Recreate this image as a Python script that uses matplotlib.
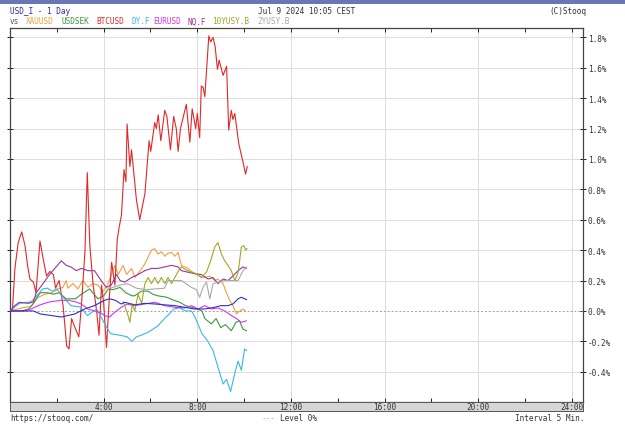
import matplotlib
matplotlib.use("Agg")
import matplotlib.pyplot as plt
from matplotlib.patches import Rectangle

# ---------------- data (hours since 0:00, % change) ----------------
usdi_h = [0, 0.5, 1.0, 1.3, 1.76, 2.19, 2.47, 2.76, 3.19, 3.6, 4.04, 4.25, 4.5, 4.75, 4.9, 5.33, 5.76,
          6.18, 6.61, 7.04, 7.46, 7.89, 8.32, 8.74, 9.0, 9.31, 9.52, 9.74, 9.88, 10.02, 10.1]
usdi_v = [0, 0.0, 0.0, -0.02, -0.03, -0.04, -0.03, -0.02, 0.013, 0.035, 0.07, 0.08, 0.07, 0.046, 0.057,
          0.04, 0.05, 0.046, 0.04, 0.035, 0.024, 0.013, 0.013, 0.024, 0.035, 0.035, 0.046, 0.08, 0.09,
          0.08, 0.075]

xau_h = [0, 0.5, 0.9, 1.2, 1.5, 1.8, 2.05, 2.26, 2.4, 2.47, 2.69, 2.9, 3.11, 3.33, 3.54, 3.75, 3.97,
         4.1, 4.26, 4.48, 4.62, 4.83, 4.98, 5.19, 5.33, 5.54, 5.76, 6.04, 6.18, 6.32, 6.47, 6.61, 6.74,
         6.9, 7.04, 7.18, 7.32, 7.46, 7.6, 7.75, 7.96, 8.1, 8.32, 8.53, 8.74, 8.88, 9.1, 9.24, 9.38,
         9.52, 9.67, 9.81, 9.95, 10.05]
xau_v = [0, 0.02, 0.03, 0.09, 0.11, 0.12, 0.145, 0.155, 0.2, 0.15, 0.18, 0.145, 0.2, 0.155, 0.18, 0.17,
         0.13, 0.15, 0.21, 0.3, 0.24, 0.3, 0.24, 0.28, 0.22, 0.26, 0.31, 0.40, 0.41, 0.375, 0.39, 0.36,
         0.38, 0.385, 0.36, 0.385, 0.30, 0.29, 0.28, 0.26, 0.24, 0.23, 0.22, 0.23, 0.20, 0.21, 0.18,
         0.12, 0.07, 0.035, -0.02, 0.0, 0.013, 0.0]

sek_h = [0, 0.5, 0.8, 1.0, 1.2, 1.3, 1.6, 1.85, 2.1, 2.4, 2.8, 3.05, 3.4, 3.75, 4.0, 4.2, 4.4, 4.7,
         4.95, 5.2, 5.33, 5.6, 5.9, 6.1, 6.3, 6.7, 7.0, 7.25, 7.5, 7.75, 8.0, 8.2, 8.32, 8.6, 8.8,
         9.0, 9.2, 9.45, 9.65, 9.8, 9.95, 10.1]
sek_v = [0, 0.0, 0.013, 0.05, 0.10, 0.12, 0.12, 0.11, 0.12, 0.08, 0.08, 0.11, 0.145, 0.08, 0.10, 0.145,
         0.14, 0.155, 0.12, 0.10, 0.10, 0.13, 0.13, 0.11, 0.10, 0.09, 0.07, 0.057, 0.035, 0.024, 0.013,
         0.0, -0.05, -0.085, -0.05, -0.11, -0.09, -0.13, -0.075, -0.065, -0.12, -0.13]

btc_h = [0, 0.1, 0.21, 0.35, 0.5, 0.64, 0.75, 0.85, 1.0, 1.11, 1.2, 1.28, 1.42, 1.56, 1.7, 1.85, 1.95,
         2.0, 2.1, 2.27, 2.42, 2.52, 2.63, 2.75, 2.94, 3.06, 3.2, 3.3, 3.41, 3.55, 3.7, 3.8, 3.91, 4.0,
         4.12, 4.22, 4.34, 4.48, 4.58, 4.66, 4.76, 4.87, 4.95, 5.0, 5.12, 5.19, 5.4, 5.54, 5.76, 5.94,
         6.01, 6.18, 6.25, 6.33, 6.44, 6.61, 6.7, 6.85, 6.99, 7.1, 7.18, 7.28, 7.53, 7.68, 7.78, 7.93,
         8.0, 8.1, 8.17, 8.25, 8.32, 8.49, 8.57, 8.67, 8.76, 8.86, 8.93, 9.1, 9.25, 9.34, 9.45, 9.52,
         9.6, 9.77, 9.95, 10.06, 10.13]
btc_v = [0, 0.0, 0.28, 0.45, 0.52, 0.43, 0.30, 0.21, 0.19, 0.12, 0.30, 0.46, 0.34, 0.23, 0.26, 0.24,
         0.15, 0.17, 0.20, 0.03, -0.23, -0.25, -0.05, -0.10, -0.17, 0.06, 0.39, 0.91, 0.43, 0.17, 0.0,
         -0.16, 0.17, 0.05, -0.24, 0.03, 0.32, 0.17, 0.47, 0.55, 0.63, 0.93, 0.85, 1.23, 0.95, 1.06,
         0.73, 0.60, 0.77, 1.12, 1.05, 1.24, 1.20, 1.29, 1.12, 1.32, 1.28, 1.06, 1.28, 1.20, 1.05, 1.20,
         1.36, 1.11, 1.33, 1.20, 1.30, 1.14, 1.48, 1.47, 1.41, 1.81, 1.77, 1.80, 1.74, 1.59, 1.65, 1.55,
         1.61, 1.19, 1.32, 1.26, 1.30, 1.10, 0.98, 0.90, 0.95]

dy_h = [0, 0.4, 0.9, 1.2, 1.4, 1.6, 1.8, 2.0, 2.2, 2.4, 2.6, 3.0, 3.3, 3.7, 4.1, 4.3, 4.7, 5.0, 5.2,
        5.4, 5.6, 5.9, 6.3, 6.6, 6.8, 7.0, 7.25, 7.5, 7.75, 7.9, 8.2, 8.45, 8.67, 8.88, 9.1, 9.25,
        9.42, 9.6, 9.74, 9.88, 10.02, 10.1]
dy_v = [0, 0.05, 0.06, 0.11, 0.145, 0.15, 0.13, 0.145, 0.10, 0.07, 0.035, 0.026, -0.03, 0.013, -0.10,
        -0.15, -0.16, -0.17, -0.20, -0.17, -0.16, -0.14, -0.10, -0.05, -0.02, 0.013, 0.02, 0.0, 0.0,
        -0.04, -0.15, -0.20, -0.26, -0.37, -0.48, -0.45, -0.53, -0.41, -0.33, -0.39, -0.25, -0.26]

eur_h = [0, 0.6, 0.9, 1.2, 1.48, 1.7, 2.19, 2.5, 2.8, 3.04, 3.33, 3.6, 3.83, 4.04, 4.25, 4.46, 4.75,
         5.0, 5.3, 5.76, 6.18, 6.61, 7.04, 7.46, 7.75, 8.03, 8.32, 8.6, 8.88, 9.17, 9.45, 9.67, 9.88,
         10.09]
eur_v = [0, 0.0, 0.013, 0.035, 0.05, 0.06, 0.07, 0.07, 0.06, 0.046, 0.013, 0.0, -0.01, -0.03, -0.04,
         -0.01, 0.024, 0.045, 0.035, 0.046, 0.057, 0.035, 0.024, 0.02, 0.035, 0.013, 0.035, 0.013, 0.02,
         0.0, -0.03, -0.05, -0.075, -0.065]

nq_h = [0, 0.2, 0.4, 0.8, 1.0, 1.12, 1.41, 1.69, 1.97, 2.19, 2.4, 2.6, 2.83, 3.04, 3.33, 3.61, 3.89,
        4.11, 4.32, 4.55, 4.7, 4.9, 5.19, 5.47, 5.76, 6.04, 6.32, 6.61, 6.9, 7.18, 7.32, 7.6, 7.89,
        8.17, 8.46, 8.67, 8.88, 9.1, 9.31, 9.52, 9.74, 9.95, 10.09]
nq_v = [0, 0.035, 0.057, 0.05, 0.06, 0.12, 0.18, 0.24, 0.29, 0.33, 0.30, 0.29, 0.265, 0.28, 0.265,
        0.265, 0.2, 0.155, 0.17, 0.24, 0.2, 0.19, 0.22, 0.24, 0.265, 0.28, 0.28, 0.29, 0.30, 0.29,
        0.265, 0.255, 0.245, 0.24, 0.21, 0.22, 0.18, 0.21, 0.2, 0.23, 0.265, 0.29, 0.28]

y10_h = [4.83, 4.9, 5.02, 5.12, 5.22, 5.33, 5.47, 5.62, 5.76, 5.9, 6.04, 6.18, 6.32, 6.47, 6.61, 6.75,
         6.9, 7.04, 7.18, 7.32, 7.53, 7.75, 7.96, 8.17, 8.39, 8.57, 8.74, 8.88, 9.03, 9.17, 9.31,
         9.45, 9.6, 9.74, 9.88, 9.99, 10.06, 10.12]
y10_v = [0.06, 0.035, -0.02, -0.075, 0.046, 0.0, 0.11, 0.05, 0.18, 0.22, 0.18, 0.22, 0.18, 0.22, 0.18,
         0.22, 0.18, 0.22, 0.26, 0.29, 0.27, 0.255, 0.245, 0.22, 0.255, 0.33, 0.42, 0.45, 0.375, 0.33,
         0.30, 0.265, 0.2, 0.25, 0.42, 0.43, 0.40, 0.41]

y2_h = [4.3, 4.7, 5.0, 5.4, 5.8, 6.2, 6.6, 6.75, 7.0, 7.32, 7.75, 7.96, 8.1, 8.24, 8.39, 8.53, 8.67,
        8.88, 9.17, 9.74, 9.95, 10.09]
y2_v = [0.15, 0.17, 0.18, 0.15, 0.14, 0.145, 0.15, 0.2, 0.2, 0.2, 0.155, 0.14, 0.09, 0.155, 0.19,
        0.08, 0.18, 0.19, 0.2, 0.2, 0.265, 0.29]

names = ["XAUUSD", "USDSEK", "BTCUSD", "DY.F", "EURUSD", "NQ.F", "10YUSY.B", "2YUSY.B"]
colors = ["#f0a040", "#3c9a3c", "#e02828", "#38b8e8", "#d038e8", "#983898", "#a0a828", "#a8a8a8"]
series = [(xau_h, xau_v), (sek_h, sek_v), (btc_h, btc_v), (dy_h, dy_v), (eur_h, eur_v),
          (nq_h, nq_v), (y10_h, y10_v), (y2_h, y2_v)]

ytick_vals = [-0.4, -0.2, 0.0, 0.2, 0.4, 0.6, 0.8, 1.0, 1.2, 1.4, 1.6, 1.8]
xtick_vals = [4, 8, 12, 16, 20, 24]
xtick_labels = ["4:00", "8:00", "12:00", "16:00", "20:00", "24:00"]

# ---------------- figure ----------------
W, H = 625, 431
fig = plt.figure(figsize=(W / 100, H / 100), dpi=100)
FONT = "DejaVu Sans Mono"
FS = 5.6

def fx(px):
    return px / W

def fy(py):
    return 1 - py / H

# header bar
fig.patches.append(Rectangle((0, fy(4.5)), 1, 4.5 / H, transform=fig.transFigure,
                             facecolor="#6878b4", edgecolor="none"))

ax_l, ax_r, ax_t, ax_b = 10, 583, 28.5, 403
ax = fig.add_axes([fx(ax_l), fy(ax_b), fx(ax_r - ax_l), (ax_b - ax_t) / H])
ax.set_xlim(0, 24.47)
ax.set_ylim(-0.599, 1.865)

for (hh, vv), c in zip(series, colors):
    ax.plot(hh, vv, color=c, lw=0.8, zorder=3)
ax.plot(usdi_h, usdi_v, color="#3030c0", lw=0.8, zorder=4)

ax.axhline(0, color="#a0a0a0", lw=0.7, ls=(0, (2, 2)), zorder=2)
for v in ytick_vals:
    if v != 0:
        ax.axhline(v, color="#dcdcdc", lw=0.7, zorder=1)
for x in xtick_vals:
    ax.axvline(x, color="#dcdcdc", lw=0.7, zorder=1)

ax.set_yticks(ytick_vals)
ax.set_yticklabels([f"{v:.1f}%" for v in ytick_vals], fontfamily=FONT, fontsize=FS, color="#333333")
ax.yaxis.tick_right()
ax.tick_params(axis="y", which="major", direction="inout", length=5, width=0.6, pad=1,
               left=True, right=True, labelleft=False, labelright=True)
ax.set_xticks([2, 4, 6, 8, 10, 12, 14, 16, 18, 20, 22, 24])
ax.tick_params(axis="x", direction="in", length=3, width=0.6, top=True, bottom=True,
               labelbottom=False)
for sp in ax.spines.values():
    sp.set_color("#444444")
    sp.set_linewidth(0.9)

# x label band
band = fig.add_axes([fx(ax_l), fy(412), fx(ax_r - ax_l), 9 / H])
band.set_facecolor("#d6d6d6")
band.set_xlim(0, 24.47)
band.set_ylim(0, 1)
band.set_xticks([])
band.set_yticks([])
for sp in band.spines.values():
    sp.set_color("#555555")
    sp.set_linewidth(0.7)
for x, lab in zip(xtick_vals, xtick_labels):
    band.text(x, 0.45, lab, ha="center", va="center", fontfamily=FONT, fontsize=FS, color="#333333")

# header texts
fig.text(fx(10), fy(12), "USD_I - 1 Day", fontfamily=FONT, fontsize=FS, color="#2a2aa0", va="center")
fig.text(fx(258), fy(12), "Jul 9 2024 10:05 CEST", fontfamily=FONT, fontsize=FS, color="#333333",
         va="center")
fig.text(fx(586), fy(12), "(C)Stooq", fontfamily=FONT, fontsize=FS, color="#333333", va="center",
         ha="right")
fig.text(fx(10), fy(22), "vs", fontfamily=FONT, fontsize=FS, color="#555555", va="center")
name_x = [26, 61, 96, 131, 153, 188, 212, 257]
for n, c, x in zip(names, colors, name_x):
    fig.text(fx(x), fy(22), n, fontfamily=FONT, fontsize=FS, color=c, va="center")

# footer texts
fig.text(fx(10), fy(419), "https://stooq.com/", fontfamily=FONT, fontsize=FS, color="#333333",
         va="center")
fig.text(fx(262), fy(419), "---", fontfamily=FONT, fontsize=FS, color="#b0b0b0", va="center")
fig.text(fx(280), fy(419), "Level 0%", fontfamily=FONT, fontsize=FS, color="#333333", va="center")
fig.text(fx(584), fy(419), "Interval 5 Min.", fontfamily=FONT, fontsize=FS, color="#333333",
         va="center", ha="right")

fig.savefig("out.png", dpi=100)
